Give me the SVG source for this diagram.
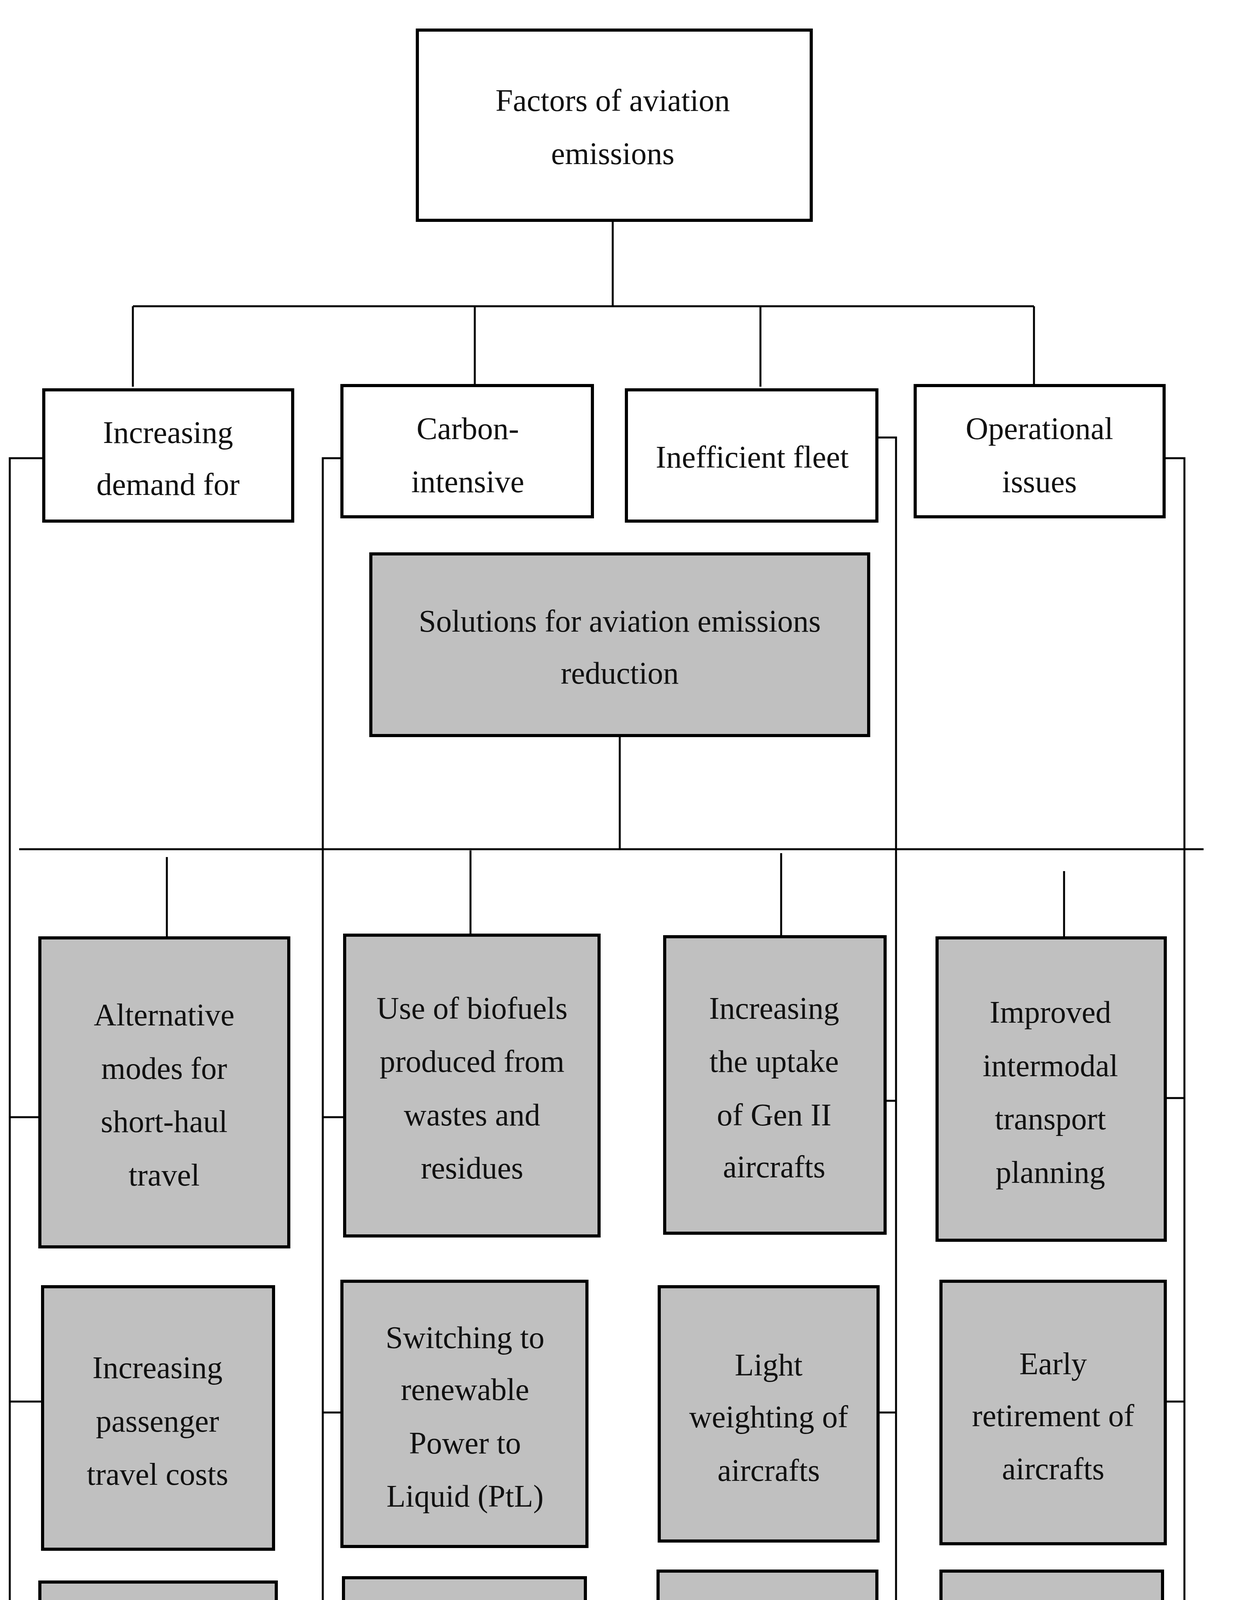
<svg xmlns="http://www.w3.org/2000/svg" width="3163" height="5466" viewBox="0 0 3163 5466">
<style>
.b{fill:#fff;stroke:#000;stroke-width:8}
.g{fill:#c0c0c0;stroke:#000;stroke-width:8}
.c line,.c polyline{stroke:#000;stroke-width:5;fill:none}
text{font-family:"Liberation Serif","DejaVu Serif",serif;font-size:80px;text-anchor:middle;fill:#111}
</style>
<rect width="3163" height="5466" fill="#fff"/>
<g class="c" id="connectors">
<line x1="1568" y1="564" x2="1568" y2="784"/>
<line x1="340" y1="784" x2="2646" y2="784"/>
<line x1="340" y1="784" x2="340" y2="990"/>
<line x1="1215" y1="784" x2="1215" y2="990"/>
<line x1="1946" y1="784" x2="1946" y2="990"/>
<line x1="2646" y1="784" x2="2646" y2="990"/>
<line x1="1586" y1="1883" x2="1586" y2="2174"/>
<line x1="49" y1="2174" x2="3080" y2="2174"/>
<line x1="427" y1="2194" x2="427" y2="2401"/>
<line x1="1204" y1="2177" x2="1204" y2="2394"/>
<line x1="1999" y1="2184" x2="1999" y2="2398"/>
<line x1="2723" y1="2230" x2="2723" y2="2401"/>
<polyline points="112,1173 25,1173 25,4389 102,4389"/>
<line x1="25" y1="2860" x2="102" y2="2860"/>
<line x1="25" y1="3588" x2="109" y2="3588"/>
<polyline points="875,1173 826,1173 826,4389 879,4389"/>
<line x1="826" y1="2860" x2="882" y2="2860"/>
<line x1="826" y1="3616" x2="875" y2="3616"/>
<polyline points="2244,1120 2293,1120 2293,4333 2244,4333"/>
<line x1="2244" y1="2818" x2="2293" y2="2818"/>
<line x1="2247" y1="3616" x2="2293" y2="3616"/>
<polyline points="2979,1173 3031,1173 3031,5208 2982,5208"/>
<line x1="2982" y1="2811" x2="3031" y2="2811"/>
<line x1="2982" y1="3588" x2="3031" y2="3588"/>
<line x1="2975" y1="4340" x2="3031" y2="4340"/>
</g>
<g id="n0"><rect class="b" x="1068" y="77" width="1008" height="487"/><text x="1568" y="284">Factors of aviation</text><text x="1568" y="420">emissions</text></g>
<g id="n1"><rect class="b" x="112" y="998" width="637" height="336"/><text x="430" y="1134">Increasing</text><text x="430" y="1267">demand for</text></g>
<g id="n2"><rect class="b" x="875" y="987" width="641" height="336"/><text x="1197" y="1124">Carbon-</text><text x="1197" y="1260">intensive</text></g>
<g id="n3"><rect class="b" x="1603" y="998" width="641" height="336"/><text x="1925" y="1197">Inefficient fleet</text></g>
<g id="n4"><rect class="b" x="2342" y="987" width="637" height="336"/><text x="2660" y="1124">Operational</text><text x="2660" y="1260">issues</text></g>
<g id="s0"><rect class="g" x="949" y="1418" width="1274" height="465"/><text x="1586" y="1617">Solutions for aviation emissions</text><text x="1586" y="1750">reduction</text></g>
<g id="a1"><rect class="g" x="102" y="2401" width="637" height="791"/><text x="420" y="2625">Alternative</text><text x="420" y="2762">modes for</text><text x="420" y="2898">short-haul</text><text x="420" y="3035">travel</text></g>
<g id="a2"><rect class="g" x="109" y="3294" width="591" height="672"/><text x="403" y="3528">Increasing</text><text x="403" y="3665">passenger</text><text x="403" y="3801">travel costs</text></g>
<g id="a3"><rect class="g" x="102" y="4050" width="605" height="1004"/><text x="406" y="4452">Awareness</text><text x="406" y="4589">building</text><text x="406" y="4722">activities</text></g>
<g id="b1"><rect class="g" x="882" y="2394" width="651" height="770"/><text x="1208" y="2608">Use of biofuels</text><text x="1208" y="2744">produced from</text><text x="1208" y="2881">wastes and</text><text x="1208" y="3017">residues</text></g>
<g id="b2"><rect class="g" x="875" y="3280" width="627" height="679"/><text x="1190" y="3451">Switching to</text><text x="1190" y="3584">renewable</text><text x="1190" y="3721">Power to</text><text x="1190" y="3857">Liquid (PtL)</text></g>
<g id="b3"><rect class="g" x="879" y="4039" width="619" height="1008"/><text x="1187" y="4445">Putting a high</text><text x="1187" y="4582">price on</text><text x="1187" y="4715">carbon</text></g>
<g id="c1"><rect class="g" x="1701" y="2398" width="564" height="759"/><text x="1981" y="2608">Increasing</text><text x="1981" y="2744">the uptake</text><text x="1981" y="2881">of Gen II</text><text x="1981" y="3014">aircrafts</text></g>
<g id="c2"><rect class="g" x="1687" y="3294" width="560" height="651"/><text x="1967" y="3521">Light</text><text x="1967" y="3654">weighting of</text><text x="1967" y="3791">aircrafts</text></g>
<g id="c3"><rect class="g" x="1684" y="4022" width="560" height="1008"/><text x="1964" y="4288">Retrofitting</text><text x="1964" y="4424">fleets by fuel</text><text x="1964" y="4561">efficient</text><text x="1964" y="4697">airframe and</text><text x="1964" y="4834">others</text></g>
<g id="d1"><rect class="g" x="2398" y="2401" width="584" height="774"/><text x="2688" y="2618">Improved</text><text x="2688" y="2755">intermodal</text><text x="2688" y="2891">transport</text><text x="2688" y="3028">planning</text></g>
<g id="d2"><rect class="g" x="2408" y="3280" width="574" height="672"/><text x="2695" y="3518">Early</text><text x="2695" y="3651">retirement of</text><text x="2695" y="3787">aircrafts</text></g>
<g id="d3"><rect class="g" x="2408" y="4022" width="567" height="1022"/><text x="2692" y="4365">Cyclic</text><text x="2692" y="4501">engine wash</text><text x="2692" y="4634">and improve</text><text x="2692" y="4771">load-factor</text></g>
<g id="d4"><rect class="g" x="1446" y="5128" width="1536" height="301"/><text x="2212" y="5264">Modernize ground and air traffic travel</text><text x="2212" y="5397">system</text></g>
</svg>
